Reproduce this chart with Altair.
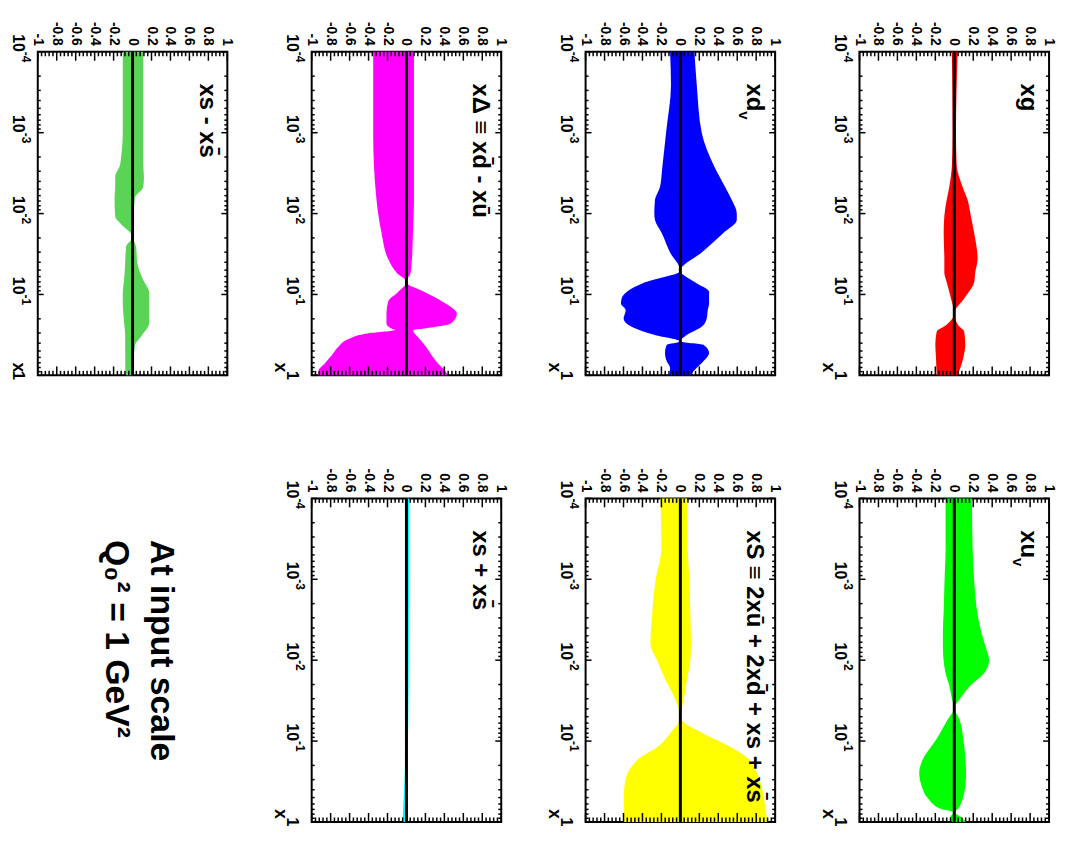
import altair as alt
import numpy as np
import pandas as pd

FONT = "Liberation Sans"
W, H = 191, 326

# ---- axis ticks / labels -------------------------------------------------
VAL_TICKS = [-1, -0.8, -0.6, -0.4, -0.2, 0, 0.2, 0.4, 0.6, 0.8, 1]
VAL_LABELS = ["-1", "-0.8", "-0.6", "-0.4", "-0.2", "0", "0.2", "0.4", "0.6", "0.8", "1"]
VAL_MINOR = [round(-1 + 0.04 * i, 2) for i in range(51) if i % 5 != 0]
LOG_TICKS = [1e-4, 1e-3, 1e-2, 1e-1, 1]
LOG_DECADES = [1e-4, 1e-3, 1e-2, 1e-1]
LOG_BASE_LABELS = ["10", "10", "10", "10"]
LOG_EXP_LABELS = ["-4", "-3", "-2", "-1"]
LOG_ONE = [1.0]
LOG_ONE_LABEL = ["1"]
LOG_MINOR = [k * 10.0 ** d for d in range(-4, 0) for k in range(2, 10)]

# ---- band data: log10(x), lower edge, upper edge -------------------------
g_lx = [-4, -3.0, -2.6, -2.33, -2.17, -1.97, -1.76, -1.44, -1.27, -1.15, -0.95, -0.765, -0.62, -0.54, -0.38, -0.215, 0]
g_lo = [-0.025, -0.018, -0.025, -0.053, -0.08, -0.105, -0.112, -0.105, -0.105, -0.08, -0.035, 0.0, -0.088, -0.186, -0.2, -0.193, -0.186]
g_hi = [0.035, 0.018, 0.025, 0.088, 0.14, 0.175, 0.21, 0.246, 0.221, 0.21, 0.105, 0.0, 0.042, 0.105, 0.116, 0.095, 0.035]

uv_lx = [-4, -3.39, -2.98, -2.57, -2.37, -2.16, -2.0, -1.84, -1.67, -1.51, -1.41, -1.27, -1.02, -0.78, -0.61, -0.45, -0.29, -0.16, -0.12, -0.06, 0]
uv_lo = [-0.092, -0.092, -0.103, -0.113, -0.12, -0.12, -0.113, -0.092, -0.05, -0.023, 0.0, -0.068, -0.19, -0.329, -0.37, -0.346, -0.277, -0.137, -0.009, -0.043, -0.023]
uv_hi = [0.186, 0.193, 0.21, 0.245, 0.28, 0.332, 0.367, 0.315, 0.158, 0.054, 0.0, 0.054, 0.096, 0.117, 0.124, 0.117, 0.089, 0.037, 0.005, 0.071, 0.124]

dv_lx = [-4, -3.59, -3.0, -2.58, -2.33, -2.17, -2.0, -1.92, -1.76, -1.52, -1.294, -1.15, -1.03, -0.95, -0.887, -0.806, -0.704, -0.602, -0.5, -0.419, -0.378, -0.277, -0.175, -0.094, 0]
dv_lo = [-0.109, -0.099, -0.151, -0.19, -0.215, -0.268, -0.275, -0.268, -0.197, -0.109, 0.0, -0.373, -0.567, -0.62, -0.627, -0.577, -0.599, -0.514, -0.268, 0.0, -0.144, -0.162, -0.144, -0.109, -0.109]
dv_hi = [0.148, 0.173, 0.225, 0.359, 0.472, 0.542, 0.595, 0.595, 0.454, 0.225, 0.0, 0.155, 0.303, 0.303, 0.303, 0.289, 0.278, 0.225, 0.067, 0.0, 0.243, 0.303, 0.243, 0.173, 0.102]

S_lx = [-4, -3.39, -2.98, -2.57, -2.2, -2.0, -1.76, -1.51, -1.29, -1.1, -0.94, -0.78, -0.69, -0.53, -0.33, -0.12, 0]
S_lo = [-0.211, -0.2, -0.263, -0.298, -0.316, -0.246, -0.158, -0.053, 0.0, -0.105, -0.228, -0.439, -0.509, -0.579, -0.596, -0.596, -0.596]
S_hi = [0.07, 0.077, 0.095, 0.105, 0.112, 0.105, 0.07, 0.035, 0.0, 0.228, 0.509, 0.719, 0.772, 0.832, 0.877, 0.902, 0.923]

D_lx = [-4, -2.98, -2.17, -1.76, -1.44, -1.27, -1.15, -1.03, -0.91, -0.76, -0.64, -0.58, -0.56, -0.52, -0.45, -0.35, -0.245, -0.15, -0.06, 0]
D_lo = [-0.351, -0.351, -0.316, -0.263, -0.194, -0.106, 0.0, -0.089, -0.194, -0.211, -0.211, -0.159, -0.12, -0.40, -0.61, -0.72, -0.79, -0.86, -0.927, -0.93]
D_hi = [0.079, 0.079, 0.079, 0.068, 0.058, 0.044, 0.0, 0.19, 0.382, 0.532, 0.47, 0.19, 0.07, 0.085, 0.138, 0.208, 0.267, 0.33, 0.407, 0.435]

sp_lx = [-4, -2.0, -1.3, -0.7, -0.3, 0]
sp_lo = [0.0, 0.0, -0.005, -0.015, -0.03, -0.042]
sp_hi = [0.028, 0.025, 0.02, 0.01, 0.0, -0.005]

sm_lx = [-4, -3.02, -2.61, -2.45, -2.33, -2.2, -1.96, -1.88, -1.71, -1.59, -1.39, -1.18, -1.02, -0.9, -0.65, -0.49, -0.37, 0]
sm_lo = [-0.103, -0.103, -0.13, -0.183, -0.183, -0.19, -0.183, -0.13, 0.0, -0.068, -0.078, -0.089, -0.103, -0.103, -0.089, -0.078, -0.078, -0.075]
sm_hi = [0.113, 0.113, 0.113, 0.12, 0.113, 0.026, 0.009, 0.002, 0.0, 0.037, 0.05, 0.113, 0.176, 0.176, 0.176, 0.096, 0.026, 0.002]


def xscale():
    return alt.Scale(domain=[-1, 1], nice=False, zero=False)


def yscale():
    return alt.Scale(type="log", domain=[1e-4, 1], reverse=True, nice=False)


def txt(**kw):
    base = dict(angle=90, font=FONT, fontWeight="bold", color="black")
    base.update(kw)
    return base


def text_layer(t, px, py, fs):
    return alt.Chart(pd.DataFrame({"t": [t]})).mark_text(
        **txt(align="left", baseline="alphabetic", fontSize=fs)
    ).encode(text="t:N", x=alt.value(px), y=alt.value(py))


def panel(lx, lo, hi, color, titles, title_x=-37, anchor=False):
    df = pd.DataFrame({"x": np.power(10.0, np.array(lx, dtype=float)), "lo": lo, "hi": hi})
    band = alt.Chart(df).mark_area(
        orient="horizontal", color=color, interpolate="monotone", opacity=1
    ).encode(
        y=alt.Y("x:Q", scale=yscale(), axis=None),
        x=alt.X("lo:Q", scale=xscale(), axis=None),
        x2="hi:Q",
    )
    zero = alt.Chart(pd.DataFrame({"z": [0]})).mark_rule(
        color="black", strokeWidth=3
    ).encode(x=alt.X("z:Q", scale=xscale(), axis=None))

    def vrule(vals, y0, y1):
        return alt.Chart(pd.DataFrame({"v": vals})).mark_rule(
            color="black", strokeWidth=1.5
        ).encode(x=alt.X("v:Q", scale=xscale(), axis=None), y=alt.value(y0), y2=alt.value(y1))

    def lrule(vals, x0, x1):
        return alt.Chart(pd.DataFrame({"t": vals})).mark_rule(
            color="black", strokeWidth=1.5
        ).encode(y=alt.Y("t:Q", scale=yscale(), axis=None), x=alt.value(x0), x2=alt.value(x1))

    ticks = [
        vrule(VAL_TICKS, 0, 9), vrule(VAL_MINOR, 0, 4.5),
        vrule(VAL_TICKS, H, H - 9), vrule(VAL_MINOR, H, H - 4.5),
        lrule(LOG_TICKS, 0, 6), lrule(LOG_MINOR, 0, 3),
        lrule(LOG_TICKS, W, W - 6), lrule(LOG_MINOR, W, W - 3),
    ]

    # tick labels, drawn through the same scales
    vlab = alt.Chart(pd.DataFrame({"v": VAL_TICKS, "s": VAL_LABELS})).mark_text(
        **txt(align="right", baseline="middle", fontSize=14)
    ).encode(x=alt.X("v:Q", scale=xscale(), axis=None), y=alt.value(-6), text="s:N")
    lbase = alt.Chart(pd.DataFrame({"t": LOG_DECADES, "s": LOG_BASE_LABELS})).mark_text(
        **txt(align="right", baseline="alphabetic", fontSize=16)
    ).encode(y=alt.Y("t:Q", scale=yscale(), axis=None), x=alt.value(-25), text="s:N")
    lexp = alt.Chart(pd.DataFrame({"t": LOG_DECADES, "s": LOG_EXP_LABELS})).mark_text(
        **txt(align="left", baseline="alphabetic", fontSize=12, dy=1)
    ).encode(y=alt.Y("t:Q", scale=yscale(), axis=None), x=alt.value(-15), text="s:N")
    lone = alt.Chart(pd.DataFrame({"t": LOG_ONE, "s": LOG_ONE_LABEL})).mark_text(
        **txt(align="center", baseline="alphabetic", fontSize=16)
    ).encode(y=alt.Y("t:Q", scale=yscale(), axis=None), x=alt.value(-25), text="s:N")
    xtitle = alt.Chart(pd.DataFrame({"s": ["x"]})).mark_text(
        **txt(align="right", baseline="alphabetic", fontSize=18)
    ).encode(x=alt.value(title_x), y=alt.value(H - 3), text="s:N")

    layers = [band, zero, *ticks, vlab, lbase, lexp, lone, xtitle]
    layers += [text_layer(*t) for t in titles]
    if anchor:
        # invisible layout anchor fixing the top-left corner of the figure
        layers.append(
            alt.Chart(pd.DataFrame({"a": [0]})).mark_rule(opacity=0, strokeWidth=0.01).encode(
                x=alt.value(-29), x2=alt.value(-29), y=alt.value(-40), y2=alt.value(-39)
            )
        )
    return alt.layer(*layers).properties(width=W, height=H)


TS = 24
p_sminus = panel(sm_lx, sm_lo, sm_hi, "#59d454", [("xs - xs\u0304", 163, 32, TS)],
                 title_x=-25, anchor=True)
p_delta = panel(D_lx, D_lo, D_hi, "#ff00ff", [("x\u0394 \u2261 xd\u0304 - x\u016b", 163, 32, TS)])
p_dv = panel(dv_lx, dv_lo, dv_hi, "#0000ff", [("xd", 163, 32, TS), ("v", 155, 60, 15)])
p_g = panel(g_lx, g_lo, g_hi, "#ff0000", [("xg", 163, 32, TS)])
p_splus = panel(sp_lx, sp_lo, sp_hi, "#00ffff", [("xs + xs\u0304", 163, 32, TS)])
p_S = panel(S_lx, S_lo, S_hi, "#ffff00",
            [("xS \u2261 2x\u016b + 2xd\u0304 + xs + xs\u0304", 163, 32, TS)])
p_uv = panel(uv_lx, uv_lo, uv_hi, "#00ff00", [("xu", 163, 32, TS), ("v", 155, 60, 15)])

text_cell = alt.layer(
    text_layer("At input scale", 114, 42, 34),
    text_layer("Q\u2080\u00b2 = 1 GeV\u00b2", 69, 42, 34),
).properties(width=W, height=H, view=alt.ViewBackground(strokeOpacity=0))

chart = alt.concat(
    p_sminus, p_delta, p_dv, p_g,
    text_cell, p_splus, p_S, p_uv,
    columns=4, spacing={"row": 124, "column": 85}, bounds="flush",
).properties(
    padding={"left": 0, "top": 0, "right": 0, "bottom": 0}
).configure_view(stroke="black", strokeWidth=2)

chart.save("out.html", embed_options={"renderer": "svg", "actions": False})
